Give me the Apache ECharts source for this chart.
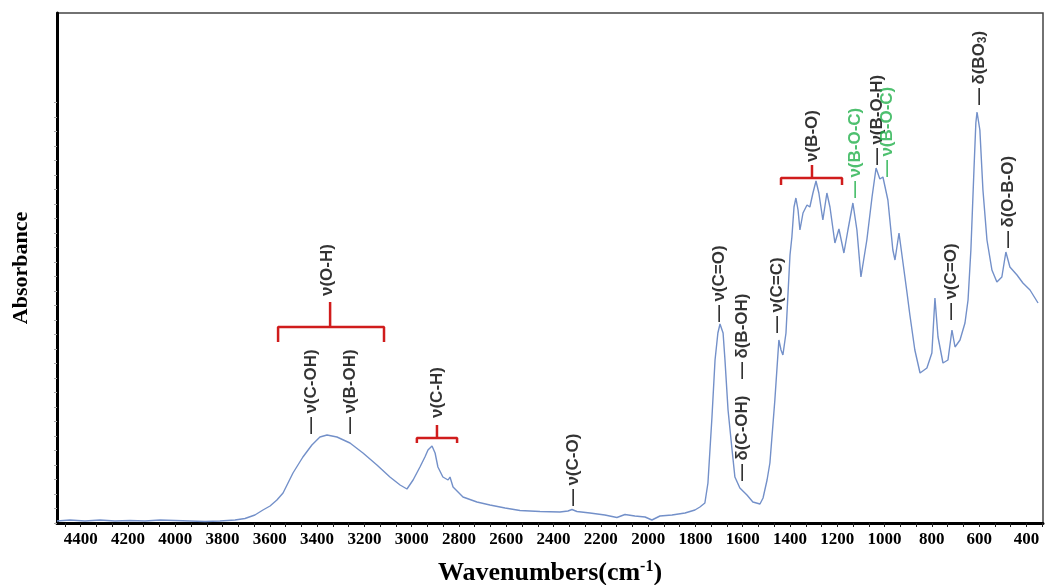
<!DOCTYPE html>
<html>
<head>
<meta charset="utf-8">
<script src="https://cdn.jsdelivr.net/npm/echarts@6/dist/echarts.min.js"></script>
<style>
html,body{margin:0;padding:0;background:#fff;}
#chart{width:1051px;height:585px;}
</style>
</head>
<body>
<div id="chart"></div>
<script>
// ---- Spectrum ----
const WAVENUMBER = [4500,4445,4382,4318,4255,4191,4128,4064,4001,3938,3874,3811,3747,3705,3663,3629,3599,3570,3544,3502,3460,3422,3388,3358,3316,3261,3206,3147,3092,3049,3020,2994,2965,2944,2931,2914,2901,2889,2868,2846,2838,2825,2783,2724,2669,2605,2542,2457,2373,2339,2322,2301,2246,2183,2132,2098,2056,2013,1984,1950,1899,1844,1802,1781,1760,1747,1730,1717,1705,1696,1683,1675,1662,1645,1633,1612,1582,1557,1527,1514,1497,1485,1464,1447,1438,1430,1417,1400,1392,1383,1375,1366,1358,1345,1328,1316,1303,1290,1278,1261,1244,1231,1210,1193,1172,1155,1134,1117,1100,1075,1053,1036,1020,1007,986,965,956,939,922,905,893,872,850,821,800,787,774,753,732,715,702,681,660,647,635,622,614,609,597,584,567,546,525,504,487,470,440,415,385,364,351];
const ABSORBANCE = [0.004,0.006,0.004,0.006,0.004,0.005,0.004,0.006,0.005,0.004,0.003,0.004,0.006,0.009,0.016,0.026,0.034,0.046,0.060,0.100,0.132,0.156,0.172,0.176,0.172,0.160,0.140,0.116,0.092,0.076,0.068,0.086,0.112,0.132,0.146,0.154,0.140,0.112,0.092,0.086,0.092,0.072,0.052,0.042,0.036,0.030,0.025,0.023,0.022,0.024,0.027,0.023,0.020,0.016,0.011,0.017,0.014,0.012,0.006,0.014,0.016,0.020,0.026,0.032,0.040,0.080,0.212,0.326,0.380,0.398,0.380,0.326,0.226,0.146,0.092,0.070,0.056,0.042,0.038,0.050,0.086,0.120,0.246,0.366,0.346,0.336,0.380,0.536,0.572,0.632,0.650,0.626,0.586,0.620,0.636,0.632,0.660,0.684,0.660,0.606,0.660,0.632,0.560,0.588,0.540,0.586,0.640,0.586,0.492,0.566,0.652,0.710,0.688,0.692,0.646,0.546,0.526,0.580,0.520,0.460,0.416,0.346,0.300,0.310,0.340,0.450,0.372,0.320,0.326,0.386,0.352,0.366,0.400,0.446,0.546,0.706,0.800,0.822,0.786,0.666,0.566,0.506,0.482,0.492,0.542,0.512,0.496,0.480,0.466,0.450,0.440];

// ---- Axis tick labels ----
const X_TICK_LABELS = [4400,4200,4000,3800,3600,3400,3200,3000,2800,2600,2400,2200,2000,1800,1600,1400,1200,1000,800,600,400];
const X_MIN = 330, X_MAX = 4500;
const Y_MIN = 0, Y_MAX = 1.02;

// ---- Peak annotations (wavenumber, absorbance where the label starts) ----
const ANN_TEXT = ['—\u2009ν(C-OH)','—\u2009ν(B-OH)','ν(O-H)','ν(C-H)','—\u2009ν(C-O)','—\u2009ν(C=O)','—\u2009δ(B-OH)','—\u2009δ(C-OH)','—\u2009ν(C=C)','ν(B-O)','—\u2009ν(B-O-C)','—\u2009ν(B-O-H)','—\u2009ν(B-O-C)','—\u2009ν(C=O)','—\u2009δ(BO{s|3})','—\u2009δ(O-B-O)'];
const ANN_WN   = [3426,3261,3358,2893,2318,1700,1603,1603,1455,1307,1125,1032,990,719,601,478];
const ANN_ABS  = [0.178,0.178,0.454,0.210,0.034,0.402,0.288,0.084,0.380,0.722,0.650,0.716,0.692,0.406,0.836,0.550];
const ANN_GREEN = [false,false,false,false,false,false,false,false,false,false,true,false,true,false,false,false];

// ---- Red brackets: left, right, stem wavenumber; bar level, end level, stem top ----
const BR_LEFT  = [3565,2978,1438];
const BR_RIGHT = [3117,2808,1180];
const BR_STEM  = [3345,2893,1307];
const BR_BAR   = [0.392,0.170,0.690];
const BR_END   = [0.362,0.160,0.676];
const BR_TOP   = [0.442,0.196,0.716];

const xMinorTicks = [];
for (let k = 0; k <= 62; k++) { const v = 4466.6667 - k * 200 / 3; if (v >= X_MIN) xMinorTicks.push(v); }
const yTicks = [];
for (let k = 0; k <= 29; k++) yTicks.push(k * 0.029);

const spectrum = WAVENUMBER.map((w, i) => [w, ABSORBANCE[i]]);
const bracketData = [];
BR_LEFT.forEach((l, i) => {
  bracketData.push([l, BR_END[i]], [l, BR_BAR[i]], [BR_RIGHT[i], BR_BAR[i]], [BR_RIGHT[i], BR_END[i]], '-',
                   [BR_STEM[i], BR_BAR[i]], [BR_STEM[i], BR_TOP[i]], '-');
});
const annData = ANN_TEXT.map((t, i) => ({
  value: [ANN_WN[i], ANN_ABS[i]],
  name: t,
  label: { color: ANN_GREEN[i] ? '#22b04b' : '#000' }
}));

const chart = echarts.init(document.getElementById('chart'), null, { renderer: 'canvas' });
chart.setOption({
  animation: false,
  backgroundColor: '#fff',
  grid: { left: 57, right: 8, top: 13, bottom: 62, containLabel: false, outerBoundsMode: 'none',
          show: true, borderColor: '#444', borderWidth: 1.5, backgroundColor: 'transparent' },
  xAxis: {
    type: 'value', inverse: true, min: X_MIN, max: X_MAX,
    name: 'Wavenumbers(cm{sup|-1})', nameLocation: 'middle', nameGap: 36,
    nameTextStyle: { fontFamily: 'Liberation Serif', fontWeight: 'bold', fontSize: 26, color: '#000',
      rich: { sup: { fontFamily: 'Liberation Serif', fontWeight: 'bold', fontSize: 16, color: '#000', padding: [0, 0, 12, 0] } } },
    axisLine: { show: true, lineStyle: { color: '#000', width: 3 } },
    axisTick: { show: true, customValues: xMinorTicks, length: 4, inside: false, lineStyle: { color: '#222', width: 1 } },
    axisLabel: { customValues: X_TICK_LABELS, formatter: v => String(Math.round(v)), margin: 8, fontFamily: 'Liberation Serif', fontWeight: 'bold', fontSize: 17, color: '#000' },
    splitLine: { show: false }
  },
  yAxis: {
    type: 'value', min: Y_MIN, max: Y_MAX,
    name: 'Absorbance', nameLocation: 'middle', nameGap: 25,
    nameTextStyle: { fontFamily: 'Liberation Serif', fontWeight: 'bold', fontSize: 22, color: '#000' },
    axisLine: { show: true, lineStyle: { color: '#000', width: 3 } },
    axisTick: { show: true, customValues: yTicks, length: 3, lineStyle: { color: '#aaa', width: 1 } },
    axisLabel: { show: false },
    splitLine: { show: false }
  },
  series: [
    {
      type: 'line', data: spectrum, showSymbol: false, symbol: 'none',
      lineStyle: { color: '#7390c9', width: 1.4 }, silent: true, z: 2
    },
    {
      type: 'line', data: bracketData, showSymbol: false, symbol: 'none', connectNulls: false,
      lineStyle: { color: '#d01c1c', width: 2.5 }, silent: true, z: 3
    },
    {
      type: 'scatter', data: annData, symbolSize: 0, silent: true, z: 4,
      label: {
        show: true, position: [0, 0], rotate: 90, align: 'left', verticalAlign: 'middle',
        formatter: p => p.name,
        fontFamily: 'Liberation Sans', fontWeight: 'bold', fontSize: 17,
        rich: { s: { fontFamily: 'Liberation Sans', fontWeight: 'bold', fontSize: 12, padding: [8, 0, 0, 0] } }
      }
    }
  ]
});
</script>
</body>
</html>
